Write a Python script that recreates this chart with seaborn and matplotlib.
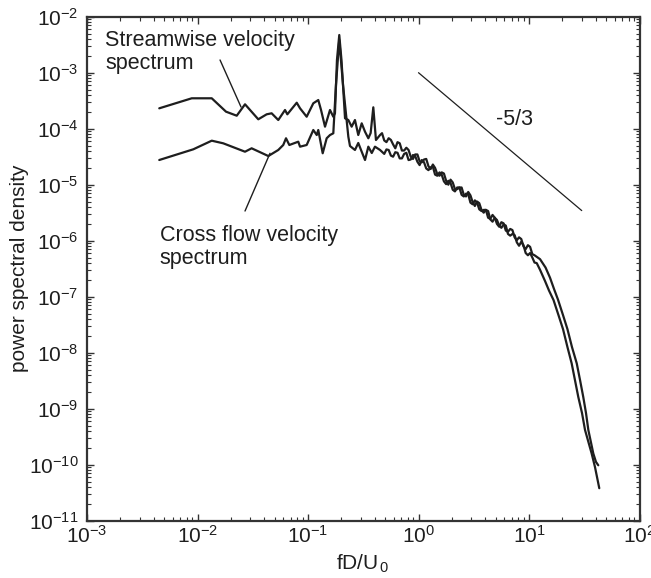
import numpy as np
import pandas as pd
import matplotlib
matplotlib.use("Agg")
import matplotlib.pyplot as plt
import seaborn as sns
from matplotlib.ticker import LogLocator, NullFormatter

# ---------------- data (log10 values) ----------------
stream_log_f = [-2.346, -2.052, -1.871, -1.742, -1.645, -1.570, -1.450, -1.374, -1.329, -1.269,
                -1.208, -1.187, -1.102, -1.072, -1.012, -0.952, -0.907, -0.882, -0.846, -0.801,
                -0.771, -0.756, -0.738, -0.717, -0.697, -0.665, -0.635, -0.605, -0.575, -0.545,
                -0.514, -0.484, -0.454, -0.433, -0.409, -0.385, -0.348,
                -0.33, -0.31, -0.29, -0.27, -0.25, -0.23, -0.21, -0.19, -0.17, -0.15,
                -0.13, -0.11, -0.09, -0.07, -0.05, -0.03, -0.01, 0.01, 0.03, 0.05,
                0.07, 0.09, 0.11, 0.13, 0.15, 0.17, 0.19, 0.21, 0.23, 0.25,
                0.27, 0.29, 0.31, 0.33, 0.35, 0.37, 0.39, 0.41, 0.43, 0.45,
                0.47, 0.49, 0.51, 0.53, 0.55, 0.57, 0.59, 0.61, 0.63, 0.65,
                0.67, 0.69, 0.71, 0.73, 0.75, 0.77, 0.79, 0.81, 0.83, 0.85,
                0.87, 0.89, 0.91, 0.93, 0.95, 0.97, 0.99, 1.01, 1.03, 1.05, 1.07,
                1.10, 1.145, 1.181, 1.222, 1.267, 1.308, 1.348, 1.386,
                1.416, 1.446, 1.480, 1.507, 1.567, 1.597, 1.636]
stream_log_psd = [-3.636, -3.457, -3.457, -3.696, -3.768, -3.564, -3.832, -3.743, -3.725, -3.845,
                  -3.666, -3.743, -3.536, -3.636, -3.786, -3.546, -3.488, -3.666, -3.964, -3.666,
                  -3.786, -3.725, -2.773, -2.327, -2.773, -3.814, -3.845, -3.964, -3.845, -4.113,
                  -3.904, -4.054, -4.171, -4.077, -3.618, -4.202, -4.113,
                  -4.08, -4.21, -4.24, -4.17, -4.20, -4.28, -4.35, -4.24, -4.26, -4.39,
                  -4.39, -4.34, -4.38, -4.50, -4.54, -4.46, -4.46, -4.58, -4.60, -4.55,
                  -4.54, -4.67, -4.72, -4.64, -4.70, -4.81, -4.84, -4.78, -4.80, -4.93,
                  -5.00, -4.91, -4.96, -5.08, -5.08, -5.05, -5.05, -5.18, -5.21, -5.13,
                  -5.19, -5.31, -5.38, -5.30, -5.33, -5.45, -5.50, -5.45, -5.47, -5.62,
                  -5.66, -5.59, -5.63, -5.73, -5.77, -5.71, -5.73, -5.88, -5.91, -5.88,
                  -5.90, -6.03, -6.09, -6.02, -6.08, -6.22, -6.26, -6.22, -6.30, -6.39, -6.40,
                  -6.52, -6.72, -6.89, -7.06, -7.33, -7.58, -7.90, -8.19,
                  -8.49, -8.79, -9.08, -9.38, -9.80, -10.04, -10.42]

cross_log_f = [-2.346, -2.038, -1.871, -1.767, -1.570, -1.510, -1.359, -1.269, -1.224, -1.199,
               -1.169, -1.088, -1.072, -1.012, -0.952, -0.921, -0.907, -0.867, -0.831, -0.801,
               -0.771, -0.747, -0.717, -0.683, -0.635, -0.620, -0.575, -0.545, -0.514, -0.484,
               -0.454, -0.423, -0.394, -0.348,
               -0.31, -0.29, -0.27, -0.25, -0.23, -0.21, -0.19, -0.17, -0.15, -0.13,
               -0.11, -0.09, -0.07, -0.05, -0.03, -0.01, 0.01, 0.03, 0.05, 0.07,
               0.09, 0.11, 0.13, 0.15, 0.17, 0.19, 0.21, 0.23, 0.25, 0.27,
               0.29, 0.31, 0.33, 0.35, 0.37, 0.39, 0.41, 0.43, 0.45, 0.47,
               0.49, 0.51, 0.53, 0.55, 0.57, 0.59, 0.61, 0.63, 0.65, 0.67,
               0.69, 0.71, 0.73, 0.75, 0.77, 0.79, 0.81, 0.83, 0.85, 0.87,
               0.89, 0.91, 0.93, 0.95, 0.97, 0.99, 1.01, 1.03, 1.05,
               1.10, 1.15, 1.190, 1.226, 1.262, 1.308, 1.348, 1.389, 1.432, 1.462,
               1.491, 1.516, 1.537, 1.582, 1.606, 1.627]
cross_log_psd = [-4.559, -4.368, -4.214, -4.261, -4.411, -4.350, -4.488, -4.380, -4.291, -4.171,
                 -4.291, -4.232, -4.321, -4.291, -4.023, -4.113, -4.023, -4.439, -4.171, -4.113,
                 -4.082, -3.220, -2.416, -3.220, -4.143, -4.309, -4.380, -4.255, -4.411, -4.559,
                 -4.321, -4.434, -4.321, -4.380,
                 -4.45, -4.37, -4.38, -4.48, -4.50, -4.42, -4.43, -4.53, -4.53, -4.45,
                 -4.43, -4.56, -4.55, -4.47, -4.49, -4.59, -4.65, -4.56, -4.60, -4.71,
                 -4.74, -4.69, -4.68, -4.82, -4.84, -4.78, -4.82, -4.94, -4.99, -4.93,
                 -4.97, -5.09, -5.12, -5.05, -5.05, -5.18, -5.21, -5.16, -5.17, -5.32,
                 -5.35, -5.28, -5.32, -5.44, -5.47, -5.45, -5.45, -5.59, -5.61, -5.54,
                 -5.59, -5.70, -5.75, -5.67, -5.69, -5.82, -5.84, -5.79, -5.81, -5.94,
                 -5.99, -5.94, -5.97, -6.10, -6.15, -6.08, -6.11, -6.24, -6.26,
                 -6.33, -6.48, -6.66, -6.86, -7.05, -7.33, -7.58, -7.90, -8.19, -8.49,
                 -8.79, -9.08, -9.38, -9.80, -9.95, -10.01]

slope_f = [1.0, 30.0]
slope_psd = [1.0e-3, 3.45e-6]

x_ticks = [1e-3, 1e-2, 1e-1, 1e0, 1e1, 1e2]
y_ticks = [1e-11, 1e-10, 1e-9, 1e-8, 1e-7, 1e-6, 1e-5, 1e-4, 1e-3, 1e-2]

# ---------------- style ----------------
sns.set_theme(style="ticks")
plt.rcParams["font.family"] = ["Liberation Sans", "DejaVu Sans"]
plt.rcParams["mathtext.default"] = "regular"
plt.rcParams["mathtext.fontset"] = "custom"
plt.rcParams["mathtext.rm"] = "Liberation Sans"
plt.rcParams["mathtext.it"] = "Liberation Sans"
plt.rcParams["axes.unicode_minus"] = False

INK = "#1e1e1e"

df = pd.concat([
    pd.DataFrame({"f": 10 ** np.array(stream_log_f), "psd": 10 ** np.array(stream_log_psd),
                  "series": "Streamwise"}),
    pd.DataFrame({"f": 10 ** np.array(cross_log_f), "psd": 10 ** np.array(cross_log_psd),
                  "series": "Cross flow"}),
], ignore_index=True)

fig = plt.figure(figsize=(6.51, 5.78), dpi=100)
ax = fig.add_axes([87 / 651, 1 - 520.7 / 578, 552.5 / 651, 504 / 578])

sns.lineplot(data=df, x="f", y="psd", units="series", estimator=None, sort=False,
             color=INK, linewidth=1.6, ax=ax, legend=False)
sns.lineplot(x=slope_f, y=slope_psd, color=INK, linewidth=0.9, ax=ax, legend=False)

ax.set_xscale("log")
ax.set_yscale("log")
ax.set_xlim(1e-3, 1e2)
ax.set_ylim(1e-11, 1e-2)

ax.xaxis.set_major_locator(LogLocator(base=10, numticks=20))
ax.yaxis.set_major_locator(LogLocator(base=10, numticks=20))
ax.xaxis.set_minor_locator(LogLocator(base=10, subs=np.arange(2, 10), numticks=40))
ax.yaxis.set_minor_locator(LogLocator(base=10, subs=np.arange(2, 10), numticks=40))
ax.xaxis.set_minor_formatter(NullFormatter())
ax.yaxis.set_minor_formatter(NullFormatter())
ax.set_xticks(x_ticks)
ax.set_yticks(y_ticks)

for s in ax.spines.values():
    s.set_visible(True)
    s.set_linewidth(1.6)
    s.set_color("#333333")

ax.tick_params(which="both", direction="in", top=True, right=True, color="#333333")
ax.tick_params(which="major", length=5, width=1.0, labelsize=15, labelcolor=INK)
ax.tick_params(which="minor", length=3, width=0.8)
ax.tick_params(axis="x", which="major", pad=3)
ax.tick_params(axis="y", which="major", pad=6)

ax.set_xlabel(r"fD/U$_{\,0}$", fontsize=15, color=INK, labelpad=4)
ax.set_ylabel("power spectral density", fontsize=15, color=INK, labelpad=0)

# annotations
ax.text(10 ** -2.837, 10 ** -2.515, "Streamwise velocity", fontsize=15.5, color=INK,
        ha="left", va="baseline")
ax.text(10 ** -2.837, 10 ** -2.935, "spectrum", fontsize=15.5, color=INK,
        ha="left", va="baseline")
ax.annotate("", xy=(10 ** -1.606, 10 ** -3.613), xytext=(10 ** -1.796, 10 ** -2.773),
            arrowprops=dict(arrowstyle="-", color=INK, lw=1.0, shrinkA=0, shrinkB=0))

ax.text(10 ** -2.34, 10 ** -5.999, "Cross flow velocity", fontsize=15.5, color=INK,
        ha="left", va="baseline")
ax.text(10 ** -2.34, 10 ** -6.418, "spectrum", fontsize=15.5, color=INK,
        ha="left", va="baseline")
ax.annotate("", xy=(10 ** -1.344, 10 ** -4.439), xytext=(10 ** -1.570, 10 ** -5.470),
            arrowprops=dict(arrowstyle="-", color=INK, lw=1.0, shrinkA=0, shrinkB=0))

ax.text(10 ** 0.873, 10 ** -3.934, "-5/3", fontsize=15.5, color=INK,
        ha="center", va="baseline")

fig.savefig("out.png", dpi=100)
